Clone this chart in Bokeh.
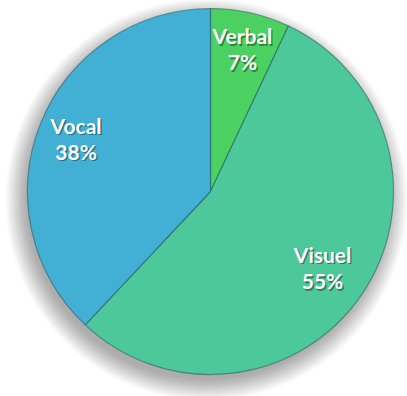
import math
from bokeh.plotting import figure
from bokeh.models import Range1d, ColumnDataSource
from bokeh.core.properties import value
from bokeh.embed import file_html
from bokeh.resources import INLINE

# Shares of communication channels (percent)
categories = ["Verbal", "Visuel", "Vocal"]
shares = [7, 55, 38]
colors = ["#4BD161", "#4DC89B", "#42B0D5"]

W, H = 407, 396
cx, cy, R = 210, 205, 183

p = figure(width=W, height=H, output_backend="svg", toolbar_location=None,
           x_range=Range1d(0, W), y_range=Range1d(0, H), min_border=0)
p.axis.visible = False
p.grid.visible = False
p.outline_line_color = None
p.background_fill_color = "white"
p.border_fill_color = "white"

# soft drop shadow, offset down-left
for i in range(22):
    p.circle(x=cx - 4, y=cy - 8, radius=R + 18 - i, fill_color="black",
             fill_alpha=0.017, line_color=None)

# slices clockwise from 12 o'clock
total = sum(shares)
starts, ends, mids = [], [], []
a = math.pi / 2
for s in shares:
    sweep = 2 * math.pi * s / total
    starts.append(a)
    ends.append(a - sweep)
    mids.append(a - sweep / 2)
    a -= sweep

src = ColumnDataSource(dict(start=starts, end=ends, color=colors,
                            x=[cx] * 3, y=[cy] * 3))
p.wedge(x="x", y="y", radius=R, start_angle="start", end_angle="end",
        direction="clock", fill_color="color", line_color="#1f4d57",
        line_alpha=0.5, line_width=1.2, source=src)

# labels: name and percentage, white with a dark shadow
lr = [0.8, 0.74, 0.79]
lx = [cx + f * R * math.cos(m) for f, m in zip(lr, mids)]
ly = [cy + f * R * math.sin(m) for f, m in zip(lr, mids)]
texts = [f"{c}\n{s}%" for c, s in zip(categories, shares)]
lsrc = ColumnDataSource(dict(x=lx, y=ly, t=texts,
                             sx=[v + 1.5 for v in lx], sy=[v - 1.5 for v in ly]))
common = dict(text="t", text_font=value("Lato"), text_font_style="bold",
              text_font_size="21px", text_align="center",
              text_baseline="middle", text_line_height=1.05, source=lsrc)
p.text(x="sx", y="sy", text_color="black", text_alpha=0.4, **common)
p.text(x="x", y="y", text_color="white", **common)

open("out.html", "w").write(file_html(p, INLINE))
